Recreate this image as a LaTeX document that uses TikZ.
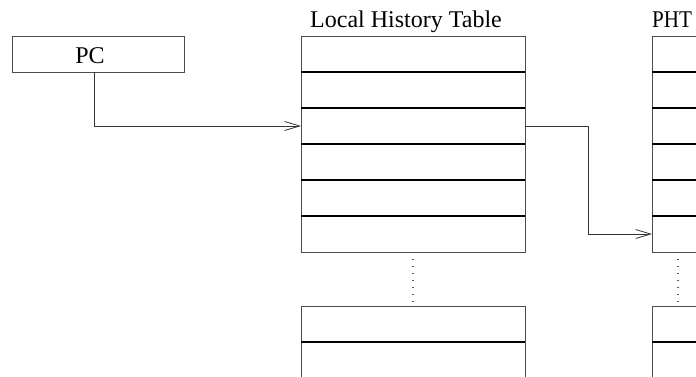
\documentclass[tikz,border=0pt]{standalone}
\usepackage{fontspec}
\setmainfont{Liberation Serif}
\usetikzlibrary{arrows.meta}
\begin{document}
\begin{tikzpicture}[x=1pt,y=-1pt,
  cell/.style={draw=black!70, line width=0.9pt, minimum width=224pt, minimum height=36pt,
    inner sep=0pt, outer sep=0pt, anchor=north west},
  rowline/.style={draw=black, line width=1.1pt},
  pcbox/.style={draw=black!70, line width=0.9pt, minimum width=172pt, minimum height=36pt,
    inner sep=0pt, outer sep=0pt},
  title/.style={font=\fontsize{24}{29}\selectfont, inner sep=0pt, anchor=base},
  link/.style={draw=black!80, line width=0.9pt, -{Straight Barb[length=15pt,width=9pt,line width=0.8pt]}},
  gap/.style={draw=black!65, line width=1.2pt, dash pattern=on 1.2pt off 5.8pt}]
\useasboundingbox (0,0) rectangle (696,376);
\clip (0,0) rectangle (696,376);

% program counter
\node[pcbox] (pc) at (98,54) {};
\node[title] (pclabel) at (90,63) {PC};

% local history table: six rows, a gap, then more rows
\node[title] (lhtname) at (406,27) {Local History Table};
\foreach \i in {1,...,6} {
  \node[cell] (lht\i) at (301,{36+36*(\i-1)}) {};
}
\node[cell] (lhtA) at (301,306) {};
\node[cell] (lhtB) at (301,342) {};
\foreach \i in {1,...,5} {
  \draw[rowline] (lht\i.south west) -- (lht\i.south east);
}
\draw[rowline] (lhtA.south west) -- (lhtA.south east);
\draw[gap] (lht6.south) -- (lhtA.north);

% pattern history table
\node[title, anchor=base west, xscale=0.88] (phtname) at (652,27) {PHT};
\foreach \i in {1,...,6} {
  \node[cell] (pht\i) at (652,{36+36*(\i-1)}) {};
}
\node[cell] (phtA) at (652,306) {};
\node[cell] (phtB) at (652,342) {};
\foreach \i in {1,...,5} {
  \draw[rowline] (pht\i.south west) -- (pht\i.south east);
}
\draw[rowline] (phtA.south west) -- (phtA.south east);
\coordinate (phtgapTop) at ([xshift=26pt]pht6.south west);
\coordinate (phtgapBot) at ([xshift=26pt]phtA.north west);
\draw[gap] (phtgapTop) -- (phtgapBot);

% index paths
\coordinate (pcout) at ([xshift=-4pt]pc.south);
\draw[link] (pcout) |- (lht3.west);
\coordinate (bend) at (588,126);
\draw[link] (lht3.east) -- (bend) |- (pht6.west);
\end{tikzpicture}
\end{document}
